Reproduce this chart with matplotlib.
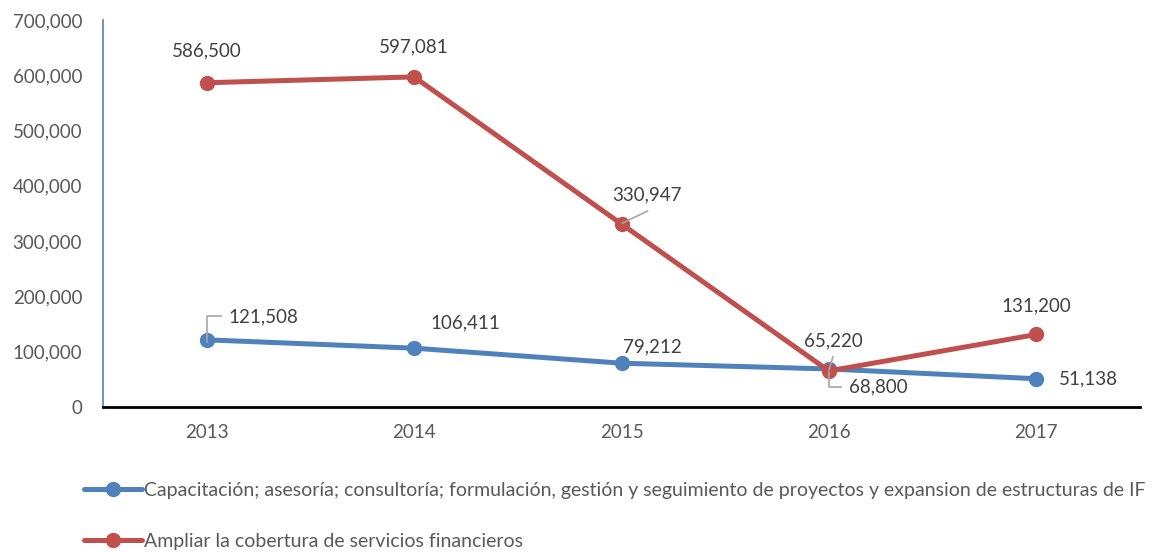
import matplotlib
matplotlib.use("Agg")
import matplotlib.pyplot as plt
from matplotlib.ticker import FuncFormatter

plt.rcParams['font.family'] = ['Lato', 'DejaVu Sans']

years = ['2013', '2014', '2015', '2016', '2017']
capacitacion = [121508, 106411, 79212, 68800, 51138]
ampliar = [586500, 597081, 330947, 65220, 131200]
names = ['Capacitación; asesoría; consultoría; formulación, gestión y seguimiento de proyectos y expansion de estructuras de IF',
         'Ampliar la cobertura de servicios financieros']

blue = '#4F81BD'
red = '#C0504D'
grey_txt = '#404040'

fig = plt.figure(figsize=(11.67, 5.52), dpi=100)
ax = fig.add_axes([103/1167, 1-407/552, (1140-103)/1167, (407-20)/552])

x = list(range(len(years)))
ax.plot(x, capacitacion, color=blue, lw=3.6, marker='o', ms=10, label=names[0], solid_capstyle='round')
ax.plot(x, ampliar, color=red, lw=3.6, marker='o', ms=10, label=names[1], solid_capstyle='round')

ax.set_xlim(-0.5, 4.5)
ax.set_ylim(0, 700000)
ax.set_yticks(range(0, 700001, 100000))
ax.yaxis.set_major_formatter(FuncFormatter(lambda v, p: f'{int(v):,}'))
ax.set_xticks(x)
ax.set_xticklabels(years)
ax.tick_params(axis='both', length=0, labelsize=13.5, colors='#595959')
ax.tick_params(axis='y', pad=15)
ax.tick_params(axis='x', pad=12)

for s in ['top', 'right']:
    ax.spines[s].set_visible(False)
ax.spines['left'].set_color(blue)
ax.spines['left'].set_linewidth(1.2)
ax.spines['bottom'].set_color('black')
ax.spines['bottom'].set_linewidth(2)

# red labels above (offsets in pixels)
red_off = [(0, 32), (0, 30), (25, 29), (4, 30), (0, 29)]
for i, v in enumerate(ampliar):
    ax.annotate(f'{v:,}', (i, v), xytext=red_off[i], textcoords='offset pixels',
                ha='center', va='center', fontsize=13.5, color=grey_txt)

# blue labels
blue_off = [(57, 23), (51, 25), (31, 16), (49, -18), (52, 0)]
for i, v in enumerate(capacitacion):
    ax.annotate(f'{v:,}', (i, v), xytext=blue_off[i], textcoords='offset pixels',
                ha='center', va='center', fontsize=13.5, color=grey_txt)

# leader lines (gray)
lc = '#A6A6A6'
def leader(pts):
    xs, ys = zip(*pts)
    ax.plot(xs, ys, color=lc, lw=1.2, zorder=5)

dy = 700000 / 387
dx = 1 / 207.4
leader([(0, 121508 - 2*dy), (0, 121508 + 24*dy), (14*dx, 121508 + 24*dy)])
leader([(3, 68800 - 3*dy), (3, 68800 - 18*dy), (3 + 12*dx, 68800 - 18*dy)])
leader([(3, 65220 + 1*dy), (3 + 4*dx, 65220 + 14*dy)])
leader([(2 + 1*dx, 330947 + 1*dy), (2 + 26*dx, 330947 + 13*dy)])

fig.legend(loc='center left', bbox_to_anchor=(84/1167, 1-516/552), frameon=False,
           fontsize=14, handlelength=3.0, handletextpad=0.1, labelspacing=1.75,
           labelcolor='#595959', borderpad=0, borderaxespad=0)

fig.savefig('out.png', dpi=100)
